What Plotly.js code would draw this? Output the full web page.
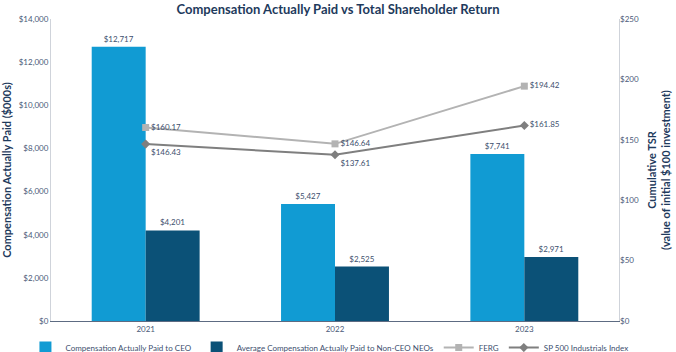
<!DOCTYPE html>
<html>
<head>
<meta charset="utf-8">
<script src="https://cdn.plot.ly/plotly-3.0.1.min.js"></script>
<style>html,body{margin:0;padding:0;background:#fff}#chart{width:676px;height:352px}</style>
</head>
<body>
<div id="chart"></div>
<script>
var years = ["2021", "2022", "2023"];
var ceoPay = [12717, 5427, 7741];
var neoPay = [4201, 2525, 2971];
var fergTSR = [160.17, 146.64, 194.42];
var spTSR = [146.43, 137.61, 161.85];
var fergPos = ["middle right", "middle right", "middle right"];
var spPos = ["bottom right", "bottom right", "middle right"];

function money(v, d) {
  return "$" + v.toLocaleString("en-US", {minimumFractionDigits: d, maximumFractionDigits: d});
}

var labelFont = {family: "Lato, 'Open Sans', sans-serif", size: 8, color: "#3d4f6e"};

var traces = [
  {type: "bar", name: "Compensation Actually Paid to CEO", x: years, y: ceoPay,
   marker: {color: "#119bd3"}, text: ceoPay.map(function(v){return money(v,0);}),
   textposition: "outside", textfont: labelFont, cliponaxis: false, hoverinfo: "none"},
  {type: "bar", name: "Average Compensation Actually Paid to Non-CEO NEOs", x: years, y: neoPay,
   marker: {color: "#0b5177"}, text: neoPay.map(function(v){return money(v,0);}),
   textposition: "outside", textfont: labelFont, cliponaxis: false, hoverinfo: "none"},
  {type: "scatter", mode: "lines+markers+text", name: "FERG", x: years, y: fergTSR, yaxis: "y2",
   line: {color: "#b3b3b3", width: 2}, marker: {symbol: "square", size: 7, color: "#b3b3b3"},
   text: fergTSR.map(function(v){return money(v,2);}), textposition: fergPos, textfont: labelFont,
   cliponaxis: false, hoverinfo: "none"},
  {type: "scatter", mode: "lines+markers+text", name: "SP 500 Industrials Index", x: years, y: spTSR, yaxis: "y2",
   line: {color: "#7f7f7f", width: 2}, marker: {symbol: "diamond", size: 7, color: "#7f7f7f"},
   text: spTSR.map(function(v){return money(v,2);}), textposition: spPos, textfont: labelFont,
   cliponaxis: false, hoverinfo: "none"}
];

var tickFont = {family: "Lato, 'Open Sans', sans-serif", size: 8, color: "#4a5a78"};
var layout = {
  width: 676, height: 352,
  margin: {l: 51, r: 57, t: 19, b: 31, autoexpand: false},
  paper_bgcolor: "#fff", plot_bgcolor: "#fff",
  font: {family: "Lato, 'Open Sans', sans-serif"},
  title: {text: "<b>Compensation Actually Paid vs Total Shareholder Return</b>",
          font: {size: 13, color: "#1e3a5c", family: "Lato, 'Open Sans', sans-serif"},
          x: 0.5, xanchor: "center", y: 0.985, yanchor: "top"},
  barmode: "group", bargap: 0.43, bargroupgap: 0,
  showlegend: true,
  legend: {orientation: "h", x: -0.045, xanchor: "left", y: -0.04, yanchor: "top",
           font: {size: 8, color: "#3d4f6e"}, itemwidth: 30, traceorder: "normal", tracegroupgap: 0},
  xaxis: {type: "category", showline: true, linecolor: "#5d6b82", linewidth: 1, ticks: "", tickfont: tickFont,
          showgrid: false, fixedrange: true},
  yaxis: {range: [0, 14000], dtick: 2000, tickprefix: "$", tickformat: ",d", showgrid: false,
          zeroline: false, showline: true, linecolor: "#cfd3da", linewidth: 1, mirror: true,
          tickfont: tickFont, ticks: "",
          title: {text: "<b>Compensation Actually Paid ($000s)</b>", font: {size: 11, color: "#1e3a5c"}, standoff: 8}},
  yaxis2: {range: [0, 250], dtick: 50, tickprefix: "$", overlaying: "y", side: "right",
           showgrid: false, zeroline: false, showline: false, tickfont: tickFont, ticks: "",
           title: {text: "<b>Cumulative TSR</b><br><b>(value of initial $100 investment)</b>",
                   font: {size: 11, color: "#1e3a5c"}, standoff: 10}}
};

Plotly.newPlot("chart", traces, layout, {displayModeBar: false, staticPlot: true});
</script>
</body>
</html>
